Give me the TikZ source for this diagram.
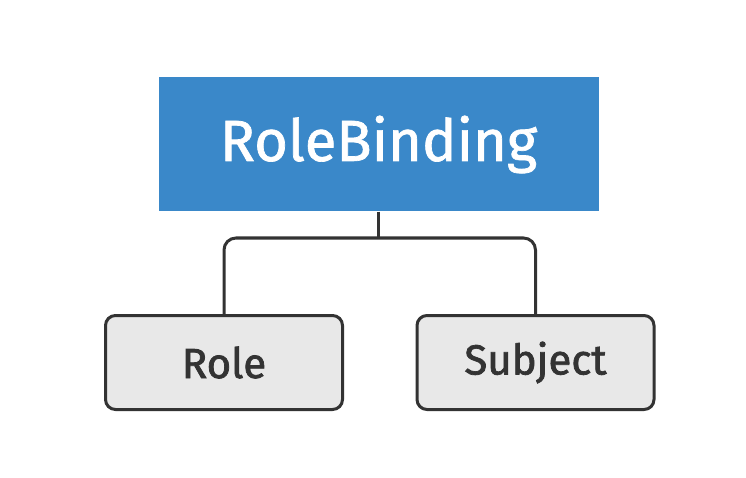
\documentclass[tikz,border=0pt]{standalone}
\usepackage{fontspec}
\setmainfont{Fira Sans}
\newfontfamily\topfont[FakeBold=1.2]{Fira Sans}
\newfontfamily\leaffont[FakeBold=1.8]{Fira Sans}
\definecolor{rbblue}{HTML}{3A88C9}
\definecolor{boxgray}{HTML}{E8E8E8}
\definecolor{darkline}{HTML}{333333}
\begin{document}
\begin{tikzpicture}[x=1pt,y=-1pt,
  topbox/.style={fill=rbblue, text=white, minimum width=440pt, minimum height=134pt, inner sep=0pt,
    font=\topfont\fontsize{58}{60}\selectfont},
  leafbox/.style={fill=boxgray, draw=darkline, line width=3pt, rounded corners=10pt,
    minimum width=237pt, minimum height=94pt, inner sep=0pt, text=darkline,
    font=\leaffont\fontsize{42}{44}\selectfont},
  conn/.style={draw=darkline, line width=3pt, rounded corners=12pt}]
\useasboundingbox (0,0) rectangle (746,478);
\fill[white] (0,0) rectangle (746,478);
\node[topbox] (rb) at (378.5,144.5) {RoleBinding};
\node[leafbox] (role) at (224,362.5) {Role};
\node[leafbox] (subj) at (535.5,362.5) {Subject};
\coordinate (j) at (378.5,238);
\draw[conn] (rb.south) -- (j);
\draw[conn] (role.north) -- (role.north |- j) -- (subj.north |- j) -- (subj.north);
\end{tikzpicture}
\end{document}
